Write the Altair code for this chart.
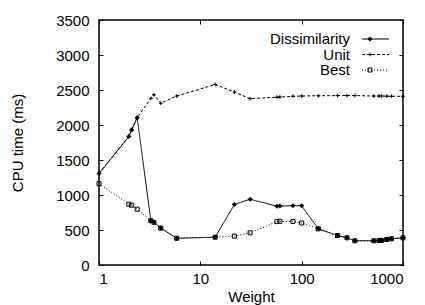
import altair as alt
import pandas as pd

# ---- data ----
weight = [1, 1.97, 2.1, 2.38, 3.25, 3.48, 4.07, 5.85, 14, 21.7, 31, 57, 61, 82, 100,
          146, 226, 280, 335, 515, 580, 615, 690, 770, 1000]
dissimilarity = [1307, 1835, 1930, 2104, 632, 610, 527, 382, 397, 864, 940, 840, 843,
                 846, 846, 517, 421, 389, 346, 346, 350, 352, 364, 374, 389]
unit = [1307, 1835, 1930, 2104, 2380, 2433, 2311, 2414, 2579, 2469, 2376, 2397, 2400,
        2410, 2414, 2418, 2420, 2420, 2420, 2414, 2414, 2414, 2412, 2410, 2410]
best = [1162, 869, 854, 797, 632, 610, 527, 382, 397, 412, 460, 620, 624, 621, 600,
        517, 421, 389, 346, 346, 350, 352, 364, 374, 389]
series_names = ["Dissimilarity", "Unit", "Best"]
x_ticks = [1, 10, 100, 1000]
y_ticks = [0, 500, 1000, 1500, 2000, 2500, 3000, 3500]

FONT = "Liberation Sans"
W, H = 304, 245

xs = alt.Scale(type="log", domain=[1, 1000])
ys = alt.Scale(domain=[0, 3500])

common = dict(offset=-4, tickSize=4, domain=False, grid=False, tickColor="black",
              labelFont=FONT, titleFont=FONT, labelFontSize=15, titleFontSize=15,
              titleFontWeight="normal", labelColor="black", titleColor="black")

x_main = alt.Axis(orient="bottom", values=x_ticks, format="d", labelPadding=6,
                  title="Weight", titlePadding=3, **common)
y_main = alt.Axis(orient="left", values=y_ticks, format="d", labelPadding=10,
                  title="CPU time (ms)", titlePadding=30, **common)
x_mirror = alt.Axis(orient="top", values=x_ticks, labels=False, title=None, **common)
y_mirror = alt.Axis(orient="right", values=y_ticks, labels=False, title=None, **common)

plus_path = "M-1,0H1M0,-1V1"

SHAPES = [("diamond", 26, True), (plus_path, 14, False), ("square", 16, False)]
DASHES = [[1, 0], [3, 2], [1, 2]]


def frame(vals):
    return pd.DataFrame({"w": weight, "t": vals})


def series(vals, dash, shape, size, filled, xa=None, ya=None):
    base = alt.Chart(frame(vals))
    line = base.mark_line(color="black", strokeWidth=1, strokeDash=dash).encode(
        x=alt.X("w:Q", scale=xs, axis=xa),
        y=alt.Y("t:Q", scale=ys, axis=ya),
    )
    pts = base.mark_point(shape=shape, size=size, filled=filled, color="black",
                          strokeWidth=1, opacity=1).encode(
        x=alt.X("w:Q", scale=xs, axis=None),
        y=alt.Y("t:Q", scale=ys, axis=None),
    )
    return [line, pts]


layers = []
layers += series(dissimilarity, DASHES[0], *SHAPES[0], x_main, y_main)
layers += series(unit, DASHES[1], *SHAPES[1], x_mirror, y_mirror)
layers += series(best, DASHES[2], *SHAPES[2])

# ---- legend (text left, sample right, like gnuplot) ----
rows_y = [19, 34.5, 50]
for name, yy, dash, (shp, sz, fl) in zip(series_names, rows_y, DASHES, SHAPES):
    d = pd.DataFrame({"label": [name]})
    lc = alt.Chart(d)
    layers.append(lc.mark_text(align="right", baseline="middle", font=FONT,
                               fontSize=15, color="black").encode(
        text="label:N", x=alt.value(251), y=alt.value(yy)))
    layers.append(lc.mark_rule(color="black", strokeWidth=1, strokeDash=dash).encode(
        x=alt.value(263), x2=alt.value(290), y=alt.value(yy)))
    layers.append(lc.mark_point(shape=shp, size=sz, filled=fl, color="black",
                                strokeWidth=1, opacity=1).encode(
        x=alt.value(271), y=alt.value(yy)))

chart = alt.layer(*layers).resolve_axis(x="independent", y="independent").properties(
    width=W, height=H,
    autosize=alt.AutoSizeParams(type="none"),
    padding={"left": 91, "top": 12, "right": 14, "bottom": 40},
).configure_view(stroke="black", strokeWidth=1.5)

chart.save("out.html", embed_options={"renderer": "svg", "actions": False})
